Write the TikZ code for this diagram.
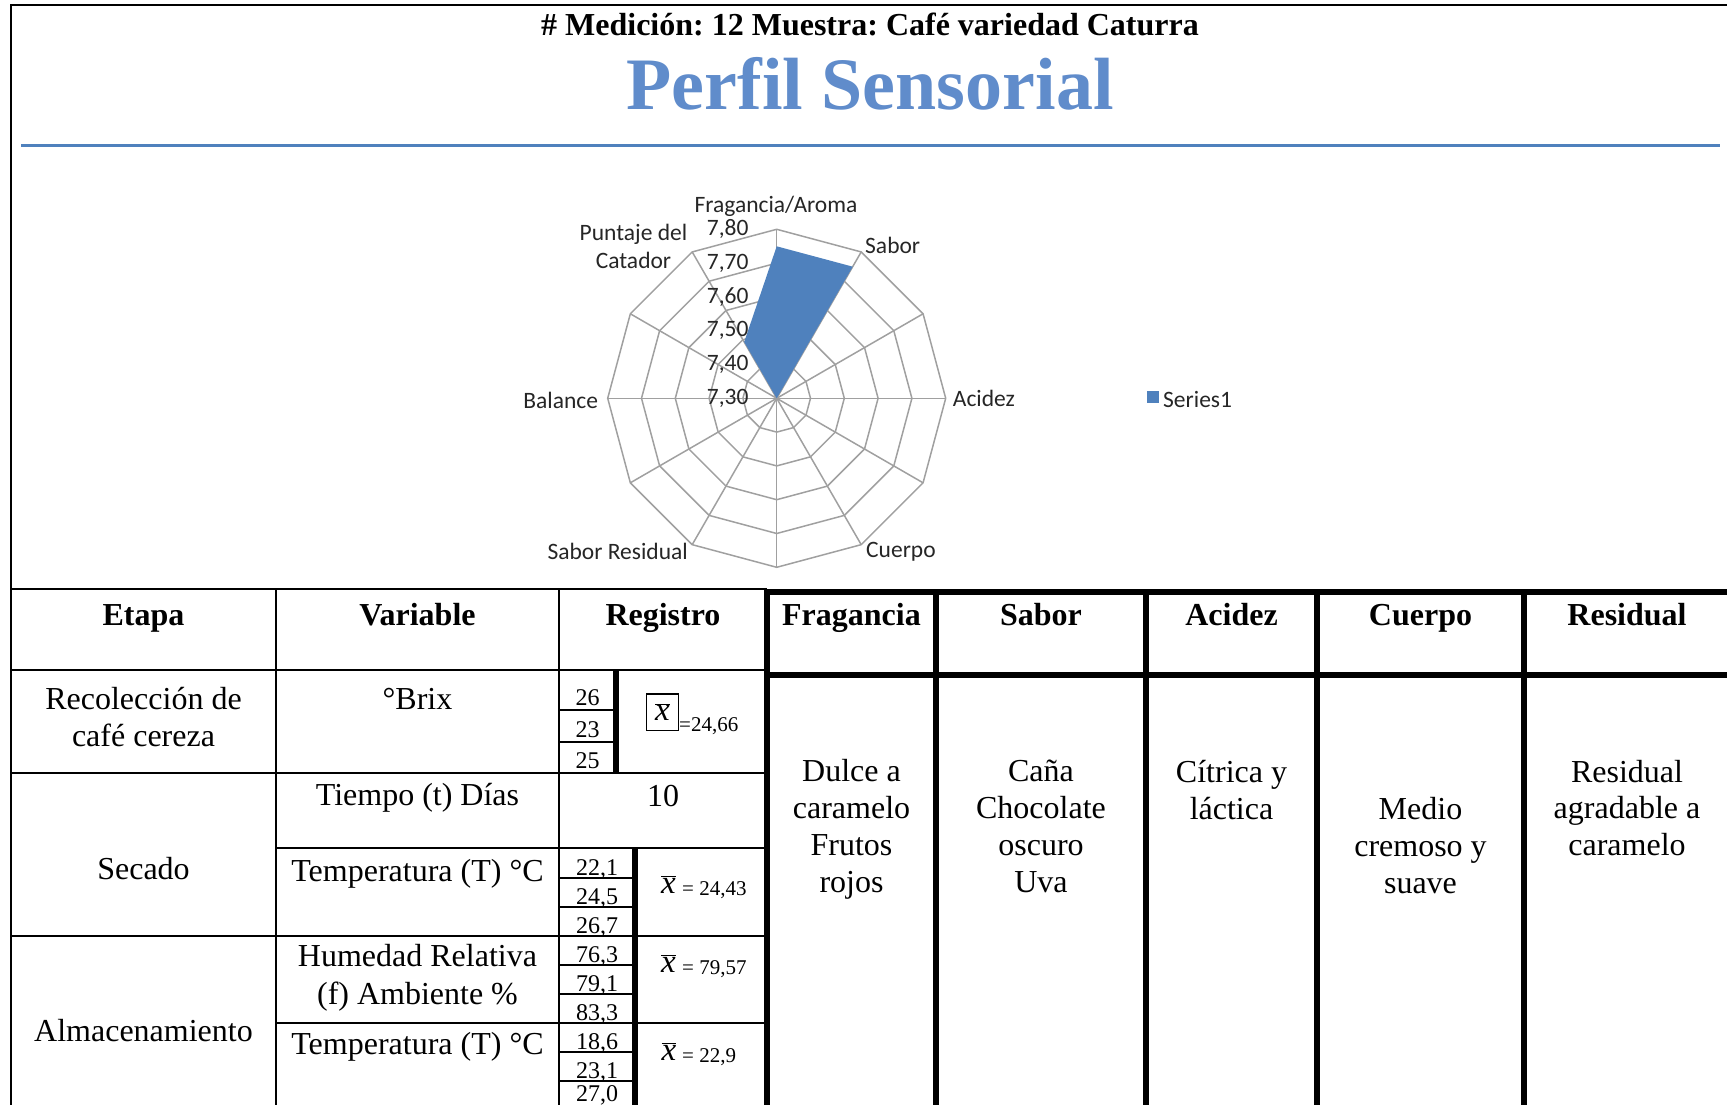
\documentclass[tikz,border=0pt]{standalone}
\usepackage{fontspec}
\setmainfont{Liberation Serif}
\newfontfamily\chartfont{Carlito}
\usetikzlibrary{positioning}
\frenchspacing
\definecolor{officeblue}{RGB}{79,129,189}
\definecolor{titleblue}{RGB}{96,140,203}
\definecolor{gridgray}{RGB}{160,160,160}
\newcommand{\xmean}{\ensuremath{\overline{\mbox{\itshape x}}}}
\tikzset{
        thinrule/.style={line width=2pt}, % lines of the left table and frame
        thickrule/.style={line width=6pt}, % heavy lines of the right table
        gridline/.style={gridgray, line width=1.5pt}, % web of the radar chart
        serie/.style={fill=officeblue}, % filled area of the series
        axislabel/.style={font=\chartfont\fontsize{23.5}{28}\selectfont, text=black!85, inner sep=0pt},
        cell/.style={font=\fontsize{32}{37}\selectfont, align=center, inner sep=0pt, anchor=base},
        headcell/.style={font=\bfseries\fontsize{32}{37}\selectfont, inner sep=0pt, anchor=base},
        numcell/.style={font=\fontsize{24}{26}\selectfont, inner sep=0pt, anchor=base},
        meanval/.style={font=\fontsize{21}{24}\selectfont, inner sep=0pt, anchor=base west},
        xbar/.style={font=\fontsize{33}{33}\selectfont, inner sep=0pt, anchor=base},
    }

\begin{document}
\begin{tikzpicture}[x=1pt, y=-1pt]
    \useasboundingbox (0,0) rectangle (1727,1105);
    \clip (0,0) rectangle (1727,1105);

    % frame and titles
    \draw[thinrule] (11,589) -- (11,5) -- (1727,5);
    \node[font=\bfseries\fontsize{32}{38}\selectfont, inner sep=0pt, anchor=base] (medicion) at (870,36) {\# Medición: 12 Muestra: Café variedad Caturra};
    \node[font=\bfseries\fontsize{74}{80}\selectfont, inner sep=0pt, anchor=base, text=titleblue] (perfil) at (870,110) {Perfil Sensorial};
    \draw[officeblue, line width=3pt] (21,146) -- (1720,146);

    % radar chart
    \begin{scope}[shift={(776.7,398.3)}, y=1pt]
        \foreach \k in {1,...,5}
            \draw[gridline] (0:{\k*33.8}) \foreach \a in {30,60,...,330} { -- (\a:{\k*33.8}) } -- cycle;
        \foreach \a in {0,30,...,330}
            \draw[gridline] (0,0) -- (\a:169);
        \fill[serie] (0,0) -- (120:65) -- (90:152) -- (60:152) -- cycle;
        \foreach \k/\v in {0/30,1/40,2/50,3/60,4/70,5/80}
            \node[axislabel, anchor=east] (tick\v) at (-28,{\k*33.8}) {7,\v};
        \node[axislabel] (lblFragancia) at (-0.7,191.6) {Fragancia/Aroma};
        \node[axislabel, anchor=west] (lblSabor) at (88.3,152.6) {Sabor};
        \node[axislabel, anchor=west] (lblAcidez) at (176,-0.4) {Acidez};
        \node[axislabel, anchor=west] (lblCuerpo) at (89.3,-153.4) {Cuerpo};
        \node[axislabel, anchor=east] (lblResidual) at (-88.7,-153.4) {Sabor Residual};
        \node[axislabel, anchor=east] (lblBalance) at (-178.4,-1.7) {Balance};
        \node[axislabel, align=center] (lblPuntaje) at (-143.2,152.3) {Puntaje del\\Catador};
    \end{scope}
    \fill[serie] (1146.7,390.7) rectangle (1159.3,403.3);
    \node[axislabel, anchor=west] (legend) at (1163,399) {Series1};

    % left table
    \draw[thinrule] (11,589) -- (767,589) (11,670) -- (767,670) (11,773) -- (767,773)
        (276,848) -- (767,848) (11,936) -- (767,936) (276,1022.7) -- (767,1022.7);
    \foreach \x in {11,276,559}
        \draw[thinrule] (\x,589) -- (\x,1105);
    \foreach \y in {710,742}
        \draw[thinrule] (559,\y) -- (616,\y);
    \foreach \y in {877.7,906.7,965,994,1051.7,1080.7}
        \draw[thinrule] (559,\y) -- (635,\y);
    \draw[thickrule] (616,670) -- (616,773);
    \draw[thickrule] (635,848) -- (635,1105);

    % right table
    \draw[thickrule] (767,592) -- (1727,592) (767,675) -- (1727,675);
    \foreach \x in {767,936,1146,1317,1524}
        \draw[thickrule] (\x,589) -- (\x,1105);

    % headers
    \node[headcell] (hEtapa) at (143.5,625) {Etapa};
    \node[headcell] (hVariable) at (417.5,625) {Variable};
    \node[headcell] (hRegistro) at (663,625) {Registro};
    \node[headcell] (hFragancia) at (851.5,625) {Fragancia};
    \node[headcell] (hSabor) at (1041,625) {Sabor};
    \node[headcell] (hAcidez) at (1231.5,625) {Acidez};
    \node[headcell] (hCuerpo) at (1420.5,625) {Cuerpo};
    \node[headcell] (hResidual) at (1627,625) {Residual};

    % etapas and variables (base = last line)
    \node[cell] (recoleccion) at (143.5,746) {Recolección de\\café cereza};
    \node[cell] (secado) at (143.5,879) {Secado};
    \node[cell] (almacenamiento) at (143.5,1041) {Almacenamiento};
    \node[cell] (brix) at (417.5,709) {°Brix};
    \node[cell] (tiempo) at (417.5,805) {Tiempo (t) Días};
    \node[cell] (tempSecado) at (417.5,881) {Temperatura (T) °C};
    \node[cell, font=\fontsize{32}{37.5}\selectfont] (humedad) at (417.5,1004) {Humedad Relativa\\(f) Ambiente \%};
    \node[cell] (tempAlmacen) at (417.5,1054) {Temperatura (T) °C};
    \node[cell] (dias) at (663,806) {10};

    % registered values
    \foreach \v/\y [count=\i] in {26/705,23/737,25/768}
        \node[numcell] (brix\i) at (587.5,\y) {\v};
    \foreach \v/\y [count=\i] in {{22,1}/875,{24,5}/904,{26,7}/933}
        \node[numcell] (tsec\i) at (597,\y) {\v};
    \foreach \v/\y [count=\i] in {{76,3}/962,{79,1}/991,{83,3}/1020}
        \node[numcell] (hum\i) at (597,\y) {\v};
    \foreach \v/\y [count=\i] in {{18,6}/1049,{23,1}/1078,{27,0}/1101}
        \node[numcell] (talm\i) at (597,\y) {\v};

    % means
    \node[draw, line width=1.5pt, inner sep=0pt, minimum width=31.6pt, minimum height=36.7pt,
        font=\fontsize{33}{33}\selectfont] (meanBrix) at (662.5,712.3) {\xmean};
    \node[meanval] (meanBrixVal) at (679,731) {=24,66};
    \node[xbar] (meanTsec) at (668.5,893) {\xmean};
    \node[meanval] (meanTsecVal) at (682,895) {= 24,43};
    \node[xbar] (meanHum) at (668.5,972) {\xmean};
    \node[meanval] (meanHumVal) at (682,974) {= 79,57};
    \node[xbar] (meanTalm) at (669,1060) {\xmean};
    \node[meanval] (meanTalmVal) at (682,1062) {= 22,9};

    % descriptors (base = last line)
    \node[cell, font=\fontsize{32}{36.7}\selectfont] (dFragancia) at (851.5,892) {Dulce a\\caramelo\\Frutos\\rojos};
    \node[cell, font=\fontsize{32}{36.7}\selectfont] (dSabor) at (1041,892) {Caña\\Chocolate\\oscuro\\Uva};
    \node[cell, font=\fontsize{32}{36.7}\selectfont] (dAcidez) at (1231.5,819) {Cítrica y\\láctica};
    \node[cell, font=\fontsize{32}{36.7}\selectfont] (dCuerpo) at (1420.5,893) {Medio\\cremoso y\\suave};
    \node[cell, font=\fontsize{32}{36.7}\selectfont] (dResidual) at (1627,855.5) {Residual\\agradable a\\caramelo};
\end{tikzpicture}
\end{document}
